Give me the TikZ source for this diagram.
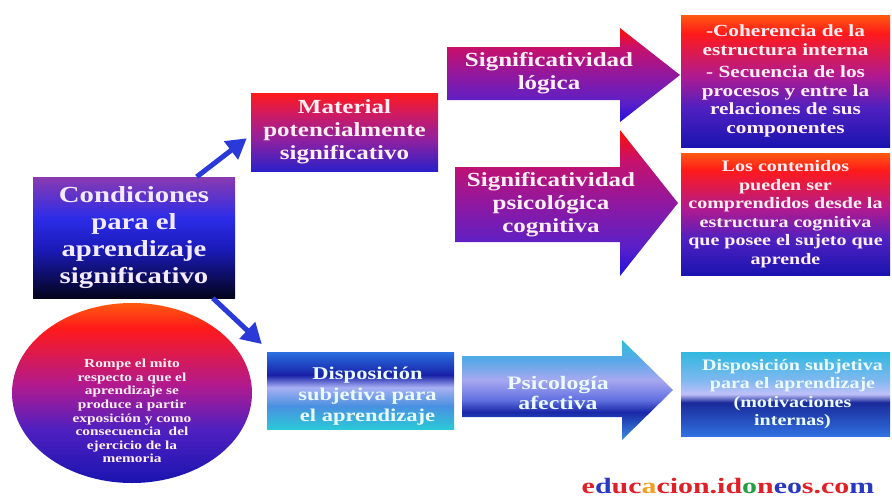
\documentclass[tikz,border=0pt]{standalone}
\usepackage{fontspec}
\usetikzlibrary{shapes.geometric,arrows.meta,calc}
\newfontfamily\boldserif{Liberation Serif}[FakeStretch=1.25]
\newfontfamily\markfont{Liberation Serif}[FakeStretch=1.36]

% palette
\definecolor{connblue}{HTML}{2A3AD8}
\definecolor{txtpink}{HTML}{FFEEF4}
\definecolor{txtlav}{HTML}{F2EAFF}
\definecolor{txtcyan}{HTML}{EAFBFF}
\definecolor{wred}{HTML}{E02028}
\definecolor{wblue}{HTML}{2838C0}
\definecolor{wgreen}{HTML}{20A040}
\definecolor{worange}{HTML}{F0A020}

% purple-blue-black box
\definecolor{cA}{HTML}{03031C}
\definecolor{cB}{HTML}{1A1AB8}
\definecolor{cC}{HTML}{2C2CE8}
\definecolor{cD}{HTML}{8A3AB0}
% red-purple-blue box
\definecolor{mA}{HTML}{2A20C8}
\definecolor{mB}{HTML}{9020A0}
\definecolor{mC}{HTML}{D01A60}
\definecolor{mD}{HTML}{FF1A1A}
% purple arrows
\definecolor{pA}{HTML}{2010E0}
\definecolor{pB}{HTML}{5A20C8}
\definecolor{pC}{HTML}{9018A0}
\definecolor{pD}{HTML}{C8106A}
\definecolor{pE}{HTML}{FF1000}
% warm boxes on the right and the ellipse
\definecolor{rA}{HTML}{1A14B0}
\definecolor{rB}{HTML}{5020C0}
\definecolor{rC}{HTML}{B01A90}
\definecolor{rD}{HTML}{FF1A1A}
\definecolor{rE}{HTML}{FF5A10}
% metallic blue box
\definecolor{dA}{HTML}{2AC8D8}
\definecolor{dB}{HTML}{4A90E0}
\definecolor{dC}{HTML}{A8B0F4}
\definecolor{dD}{HTML}{1820A8}
\definecolor{dE}{HTML}{2A70E0}
% metallic blue arrow
\definecolor{aA}{HTML}{3A90E0}
\definecolor{aB}{HTML}{1A28A8}
\definecolor{aC}{HTML}{6070E0}
\definecolor{aD}{HTML}{A8A8F0}
\definecolor{aE}{HTML}{58A8E8}
\definecolor{aF}{HTML}{30C0D8}
% metallic blue box, right
\definecolor{eA}{HTML}{3070E0}
\definecolor{eB}{HTML}{1A2A9A}
\definecolor{eC}{HTML}{C0C0F8}
\definecolor{eD}{HTML}{80B8F0}
\definecolor{eE}{HTML}{30B8E0}

% vertical shadings; the path box spans 25bp (bottom) to 75bp (top)
\pgfdeclareverticalshading{condshade}{100bp}{color(0bp)=(cA); color(25bp)=(cA); color(45bp)=(cB); color(58bp)=(cC); color(75bp)=(cD); color(100bp)=(cD)}
\pgfdeclareverticalshading{matshade}{100bp}{color(0bp)=(mA); color(25bp)=(mA); color(45bp)=(mB); color(62bp)=(mC); color(75bp)=(mD); color(100bp)=(mD)}
\pgfdeclareverticalshading{purplearrow}{100bp}{color(0bp)=(pA); color(25bp)=(pA); color(35bp)=(pB); color(50bp)=(pC); color(65bp)=(pD); color(75bp)=(pE); color(100bp)=(pE)}
\pgfdeclareverticalshading{warmshade}{100bp}{color(0bp)=(rA); color(25bp)=(rA); color(40bp)=(rB); color(52bp)=(rC); color(68bp)=(rD); color(75bp)=(rE); color(100bp)=(rE)}
\pgfdeclareverticalshading{dispshade}{100bp}{color(0bp)=(dA); color(25bp)=(dA); color(40bp)=(dB); color(52bp)=(dC); color(60bp)=(dD); color(75bp)=(dE); color(100bp)=(dE)}
\pgfdeclareverticalshading{bluearrow}{100bp}{color(0bp)=(aA); color(25bp)=(aA); color(39bp)=(aB); color(45bp)=(aC); color(55bp)=(aD); color(65bp)=(aE); color(75bp)=(aF); color(100bp)=(aF)}
\pgfdeclareverticalshading{coolshade}{100bp}{color(0bp)=(eA); color(25bp)=(eA); color(45bp)=(eB); color(50bp)=(eC); color(58bp)=(eD); color(75bp)=(eE); color(100bp)=(eE)}

\begin{document}
\begin{tikzpicture}[x=1pt,y=-1pt,
  box/.style={rectangle, inner sep=0pt, align=center},
  big/.style={font={\boldserif\bfseries\fontsize{23}{27}\selectfont}},
  mid/.style={font={\boldserif\bfseries\fontsize{20}{23}\selectfont}},
  midb/.style={font={\boldserif\bfseries\fontsize{18}{21}\selectfont}},
  small/.style={font={\boldserif\bfseries\fontsize{16}{18.5}\selectfont}},
  tiny/.style={font={\boldserif\bfseries\fontsize{12.3}{13.6}\selectfont}},
  conn/.style={draw=connblue, line width=5pt, -{Triangle[length=20pt,width=22pt]}},
]
\fill[white] (0,0) rectangle (892,498);
\useasboundingbox (0,0) rectangle (892,498);

% boxes
\node[box, big, text=txtlav, shading=condshade, minimum width=202, minimum height=121]
  (cond) at (134,237.5) {Condiciones\\para el\\aprendizaje\\significativo};
\node[box, mid, text=txtpink, shading=matshade, minimum width=187, minimum height=78]
  (mat) at (344.5,132) {Material\\potencialmente\\significativo};
\node[box, text=txtpink, shading=warmshade, minimum width=209, minimum height=132,
  font={\boldserif\bfseries\fontsize{17}{18.5}\selectfont}]
  (logbox) at (785.5,81) {-Coherencia de la\\estructura interna\\[4pt]- Secuencia de los\\procesos y entre la\\relaciones de sus\\componentes};
\node[box, small, text=txtpink, shading=warmshade, minimum width=209, minimum height=122]
  (psibox) at (785.5,214) {Los contenidos\\pueden ser\\comprendidos desde la\\estructura cognitiva\\que posee el sujeto que\\aprende};
\node[box, shading=dispshade, minimum width=187, minimum height=77]
  (disp) at (360.5,390.5) {};
\node[align=center, midb, text=txtcyan] (disptxt) at ($(disp.center)+(7,6)$)
  {Disposición\\subjetiva para\\el aprendizaje};
\node[box, shading=coolshade, minimum width=209, minimum height=84]
  (motbox) at (785.5,394) {};
\node[align=center, small, text=txtcyan] (mottxt) at ($(motbox.center)+(7,0)$)
  {Disposición subjetiva\\para el aprendizaje\\(motivaciones\\internas)};

% ellipse with its note
\node[ellipse, inner sep=0pt, shading=warmshade, minimum width=240, minimum height=180]
  (mito) at (132,393) {};
\node[align=center, tiny, text=txtpink] (mitotxt) at ($(mito.center)+(0,18)$)
  {Rompe el mito\\respecto a que el\\aprendizaje se\\produce a partir\\exposición y como\\consecuencia\ \ del\\ejercicio de la\\memoria};

% block arrows
\shade[shading=purplearrow] (447,47) -- (620,47) -- (620,28) -- (680,75) -- (620,122) -- (620,100) -- (447,100) -- cycle;
\node[align=center, mid, text=txtpink] (logtxt) at (549,73) {Significatividad\\lógica};
\shade[shading=purplearrow] (455,167) -- (620,167) -- (620,130) -- (678,203) -- (620,276) -- (620,242) -- (455,242) -- cycle;
\node[align=center, mid, text=txtpink] (psitxt) at (551,205) {Significatividad\\psicológica\\cognitiva};
\shade[shading=bluearrow] (462,356) -- (622,356) -- (622,340) -- (673,390) -- (622,440) -- (622,417) -- (462,417) -- cycle;
\node[align=center, font={\boldserif\bfseries\fontsize{19}{20}\selectfont}, text=txtcyan] (afetxt) at (558,393) {Psicología\\afectiva};

% connectors
\draw[conn] ($(cond.north west)!0.81!(cond.north east)$) -- ($(mat.north west)!0.58!(mat.south west)+(-4,0)$);
\draw[conn] ($(cond.south west)!0.89!(cond.south east)$) -- ($(disp.north west)!-0.1!(disp.south west)+(-5,0)$);

% site mark
\node[anchor=base, font={\markfont\bfseries\fontsize{22}{24}\selectfont}] (site) at (728,493)
  {\textcolor{wred}{e}\textcolor{wblue}{d}\textcolor{wred}{uc}\textcolor{worange}{a}\textcolor{wred}{cion.id}\textcolor{wgreen}{o}\textcolor{wred}{n}\textcolor{wblue}{eo}\textcolor{wred}{s.co}\textcolor{wblue}{m}};
\end{tikzpicture}
\end{document}
